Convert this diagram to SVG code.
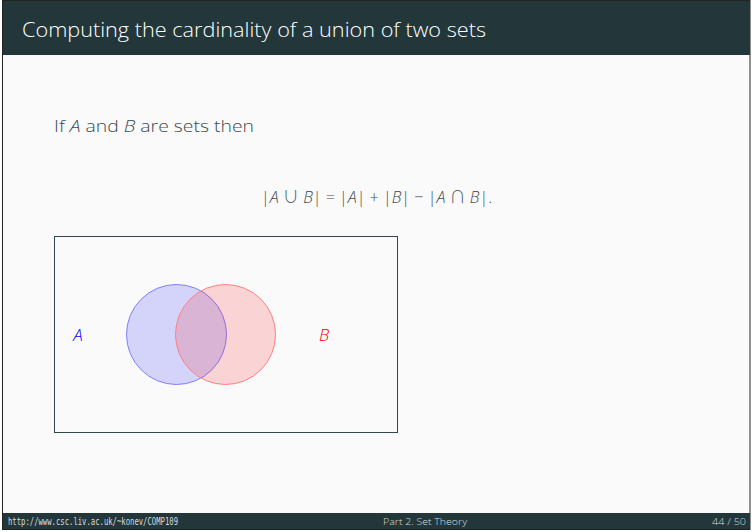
<svg xmlns="http://www.w3.org/2000/svg" width="752" height="532" viewBox="0 0 752 532">
<style>
.bar{fill:#23373b}
.t{font-family:"Open Sans","Noto Sans",sans-serif;font-weight:300}
.body{fill:#3b4b4f;font-size:17px}
.foot{fill:#d6dcdd;font-size:9.5px}
.op{font-family:"Noto Sans CJK SC","DejaVu Sans",sans-serif;font-weight:300}
</style>
<rect x="0" y="0" width="752" height="532" fill="#ffffff"/>
<rect x="2.5" y="0.5" width="747.5" height="529" fill="#fafafa" stroke="#222" stroke-width="1"/>
<rect class="bar" x="3" y="1" width="747" height="54"/>
<text class="t" x="22" y="37" font-size="20.5" fill="#ffffff" textLength="464" lengthAdjust="spacingAndGlyphs">Computing the cardinality of a union of two sets</text>
<text class="t body" x="54" y="132" textLength="200" lengthAdjust="spacingAndGlyphs">If <tspan font-style="italic">A</tspan> and <tspan font-style="italic">B</tspan> are sets then</text>
<text class="t body" x="261" y="203" textLength="231" lengthAdjust="spacingAndGlyphs">|<tspan font-style="italic">A</tspan> <tspan class="op">∪</tspan> <tspan font-style="italic">B</tspan>| = |<tspan font-style="italic">A</tspan>| + |<tspan font-style="italic">B</tspan>| − |<tspan font-style="italic">A</tspan> <tspan class="op">∩</tspan> <tspan font-style="italic">B</tspan>|.</text>
<g id="universe">
<rect x="54.5" y="236.5" width="343" height="196" fill="none" stroke="#34474b" stroke-width="1"/>
</g>
<g id="setA">
<circle cx="176.5" cy="334.5" r="50" fill="#0000ff" fill-opacity="0.15" stroke="#7f7fff" stroke-width="1"/>
<text class="t" x="78" y="341" font-size="17" font-style="italic" fill="#0000ff" text-anchor="middle">A</text>
</g>
<g id="setB">
<circle cx="225.5" cy="334.5" r="50" fill="#ff0000" fill-opacity="0.15" stroke="#ff7f7f" stroke-width="1"/>
<text class="t" x="324" y="341" font-size="17" font-style="italic" fill="#ff0000" text-anchor="middle">B</text>
</g>
<g id="connectors"/>
<rect class="bar" x="3" y="513" width="747" height="16"/>
<text x="8" y="525" font-family="'DejaVu Sans Mono','Liberation Mono',monospace" font-size="10.5" fill="#d6dcdd" textLength="170" lengthAdjust="spacingAndGlyphs">http://www.csc.liv.ac.uk/~konev/COMP109</text>
<text class="t foot" x="383" y="525" textLength="84" lengthAdjust="spacingAndGlyphs">Part 2. Set Theory</text>
<text class="t foot" x="746" y="525" text-anchor="end" textLength="34" lengthAdjust="spacingAndGlyphs">44 / 50</text>
</svg>
